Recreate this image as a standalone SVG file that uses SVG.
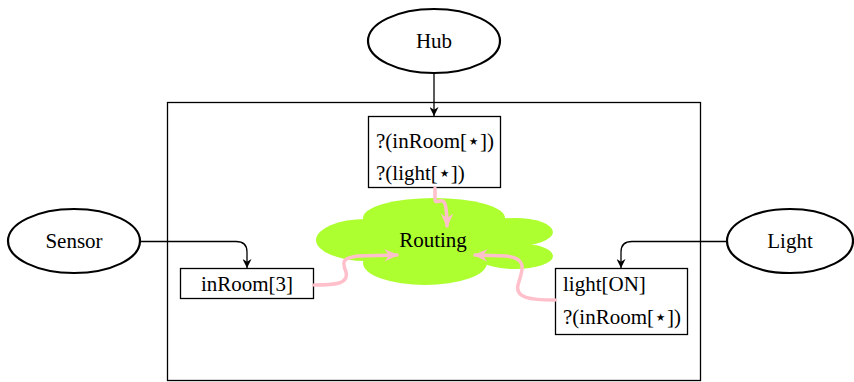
<svg xmlns="http://www.w3.org/2000/svg" width="854" height="382" viewBox="0 0 854 382" font-family="'Liberation Serif', 'Times New Roman', 'DejaVu Serif', serif">
<style>
text{font-family:'Liberation Serif','Times New Roman','DejaVu Serif',serif;font-size:21px;fill:#000}
.ell{fill:#fff;stroke:#000;stroke-width:2.2}
.box{fill:#fff;stroke:#000;stroke-width:1.3}
.conn{fill:none;stroke:#000;stroke-width:1.3}
.snake{fill:none;stroke:#ffc0cb;stroke-width:3.5;stroke-linecap:round}
.cloud{fill:#adff2f}
</style>
<defs>
<marker id="ah" markerUnits="userSpaceOnUse" viewBox="0 0 10 10" refX="10" refY="5" markerWidth="9" markerHeight="9" orient="auto">
<path d="M0,0 L10,5 L0,10 L3,5 z" fill="#000"/>
</marker>
<marker id="ph" markerUnits="userSpaceOnUse" viewBox="0 0 10 10" refX="9" refY="5" markerWidth="15" markerHeight="14" orient="auto">
<path d="M0,0.5 L10,5 L0,9.5 L3.5,5 z" fill="#ffc0cb"/>
</marker>
</defs>
<rect id="container" x="167.5" y="102.5" width="533" height="278" fill="none" stroke="#000" stroke-width="1.3"/>
<g id="routing">
<g class="cloud">
<ellipse cx="434" cy="218" rx="71" ry="20"/>
<ellipse cx="366" cy="240" rx="50" ry="21"/>
<ellipse cx="515" cy="232" rx="38" ry="14"/>
<ellipse cx="515" cy="256" rx="38" ry="13"/>
<ellipse cx="425" cy="263" rx="62" ry="22"/>
<ellipse cx="440" cy="243" rx="80" ry="25"/>
</g>
<text x="433" y="247" text-anchor="middle">Routing</text>
</g>
<g id="hub">
<ellipse class="ell" cx="434" cy="41" rx="66" ry="32"/>
<text x="434" y="48" text-anchor="middle">Hub</text>
</g>
<g id="sensor">
<ellipse class="ell" cx="74" cy="241" rx="66" ry="32"/>
<text x="74" y="248" text-anchor="middle">Sensor</text>
</g>
<g id="light">
<ellipse class="ell" cx="790" cy="241" rx="63" ry="32"/>
<text x="790" y="248" text-anchor="middle">Light</text>
</g>
<g id="hubBox">
<rect class="box" x="368.5" y="116.5" width="132" height="71"/>
<text x="376" y="148">?(inRoom[⋆])</text>
<text x="376" y="180">?(light[⋆])</text>
</g>
<g id="sensorBox">
<rect class="box" x="180.5" y="268.5" width="133" height="30"/>
<text x="247" y="291" text-anchor="middle">inRoom[3]</text>
</g>
<g id="lightBox">
<rect class="box" x="555.5" y="268.5" width="132" height="66"/>
<text x="563" y="291">light[ON]</text>
<text x="563" y="324">?(inRoom[⋆])</text>
</g>
<g id="connectors">
<path class="conn" d="M434,73 L434,116" marker-end="url(#ah)"/>
<path class="conn" d="M140,241.5 L236,241.5 Q247,241.5 247,252 L247,268" marker-end="url(#ah)"/>
<path class="conn" d="M727,241.5 L632,241.5 Q621,241.5 621,252 L621,268" marker-end="url(#ah)"/>
<path class="snake" d="M435,188 L435,199 C435,206 442,196 445,204 C447,210 447,214 447,226" marker-end="url(#ph)"/>
<path class="snake" d="M314,285 C335,285 349,284 346,272 C342,262 342,258 358,256 L397,255" marker-end="url(#ph)"/>
<path class="snake" d="M555,300 C530,300 515,298 518,285 C521,273 530,258 506,256 L475,255" marker-end="url(#ph)"/>
</g>
</svg>
